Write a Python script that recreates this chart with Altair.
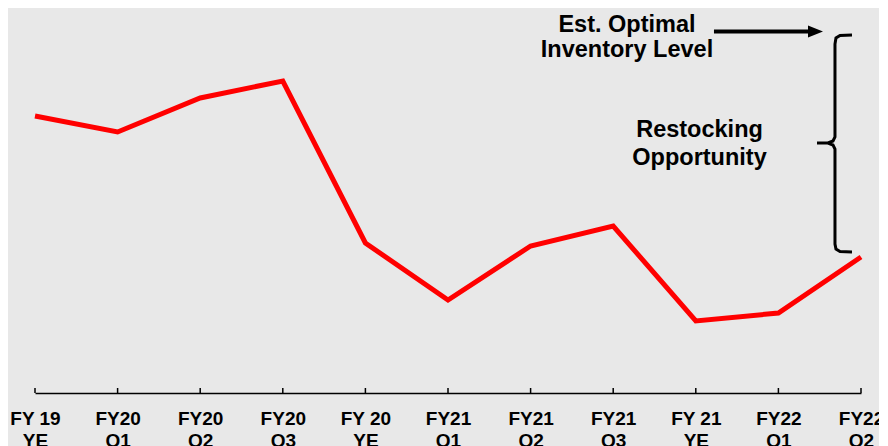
import json
import altair as alt
import pandas as pd

# ---- data ----
labels = ["FY 19|YE", "FY20|Q1", "FY20|Q2", "FY20|Q3", "FY 20|YE", "FY21|Q1",
          "FY21|Q2", "FY21|Q3", "FY 21|YE", "FY22|Q1", "FY22|Q2"]
inventory = [277, 261, 295, 312, 150, 93, 147, 167, 72, 80, 136]

note_text = ["Est. Optimal", "Inventory Level", "Restocking", "Opportunity"]
note_x = [7.167, 7.167, 8.045, 8.045]
note_y = [361, 336, 256, 228]

arrow_x = [8.22, 9.36]
arrow_y = [361.5, 361.5]
head_x = [9.449]
head_y = [361.5]

brace_x = [9.891, 9.746, 9.697, 9.685, 9.685, 9.661, 9.600, 9.467, 9.600,
           9.661, 9.685, 9.685, 9.697, 9.746, 9.891]
brace_y = [358, 357.5, 355, 349, 256, 252, 250, 250, 250, 248, 244, 149,
           144, 141.5, 141]

tick_pos = list(range(len(labels)))

# ---- tables ----
line_df = pd.DataFrame({"x": tick_pos, "y": inventory})
note_df = pd.DataFrame({"x": note_x, "y": note_y, "t": note_text})
arrow_df = pd.DataFrame({"x": arrow_x, "y": arrow_y})
head_df = pd.DataFrame({"x": head_x, "y": head_y})
brace_df = pd.DataFrame({"x": brace_x, "y": brace_y, "i": range(len(brace_x))})
tick_df = pd.DataFrame({"x": tick_pos, "y": [0] * len(tick_pos), "y2": [5] * len(tick_pos)})

xs = alt.Scale(domain=[0, 10], nice=False, zero=False)
ys = alt.Scale(domain=[0, 385], nice=False, zero=False)
FONT = "Liberation Sans"

label_expr = "split(" + json.dumps(labels) + "[datum.value], '|')"

x_axis = alt.Axis(
    values=tick_pos, labelExpr=label_expr, ticks=False, tickSize=0,
    domain=True, domainColor="black", domainWidth=1.5, grid=False,
    title=None, labelFont=FONT, labelFontWeight="bold", labelFontSize=19,
    labelColor="black", labelPadding=16, labelLineHeight=22, labelAngle=0,
    labelOverlap=False, labelFlush=False)

X = alt.X("x:Q", scale=xs, axis=x_axis)
Y = alt.Y("y:Q", scale=ys, axis=None)

line = alt.Chart(line_df).mark_line(color="#ff0000", strokeWidth=5).encode(
    x=X, y=Y)

ticks = alt.Chart(tick_df).mark_rule(color="black", strokeWidth=1.5).encode(
    x=X, y=Y, y2="y2:Q")

notes = alt.Chart(note_df).mark_text(
    font=FONT, fontWeight="bold", fontSize=23.5, align="center",
    baseline="alphabetic", color="black").encode(x=X, y=Y, text="t:N")

arrow = alt.Chart(arrow_df).mark_line(color="black", strokeWidth=4).encode(
    x=X, y=Y)

head = alt.Chart(head_df).mark_point(
    shape="M-1,-0.8L1,0L-1,0.8Z", size=225, filled=True, color="black",
    opacity=1).encode(x=X, y=Y)

brace = alt.Chart(brace_df).mark_line(color="black", strokeWidth=3).encode(
    x=X, y=Y, order="i:Q")

chart = alt.layer(line, ticks, notes, arrow, head, brace).properties(
    width=826, height=385,
    autosize=alt.AutoSizeParams(type="none"),
    padding={"left": 27, "top": 0, "right": 18, "bottom": 53},
    background="#e8e8e8",
).configure_view(stroke=None)

chart.save("out.html", embed_options={"renderer": "svg", "actions": False})
